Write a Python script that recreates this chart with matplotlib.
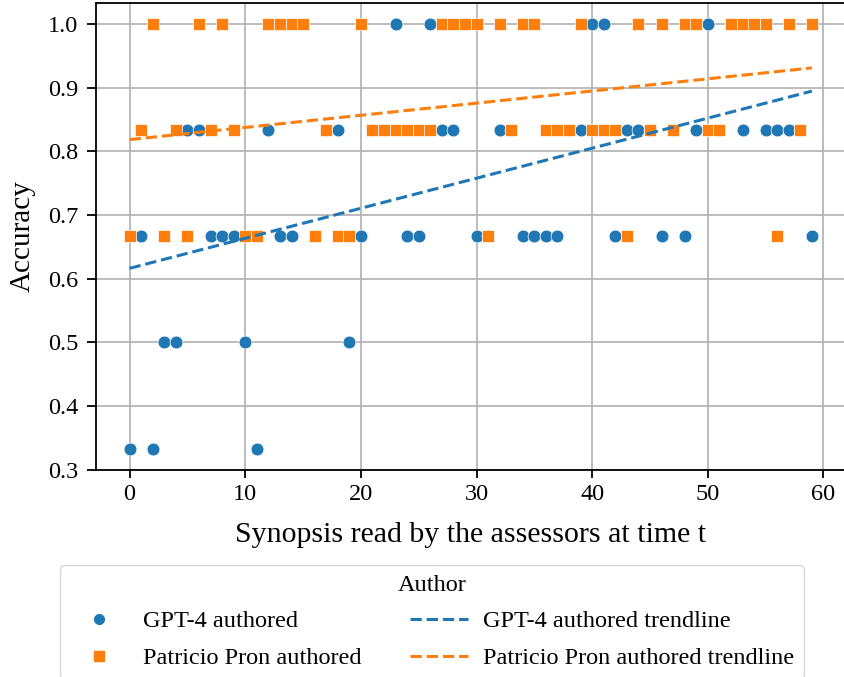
import numpy as np
import matplotlib
matplotlib.use("Agg")
import matplotlib.pyplot as plt
from matplotlib.lines import Line2D

plt.rcParams['font.family'] = ['Liberation Serif', 'DejaVu Serif']

# time t (synopsis index)
t = list(range(60))

gpt4_acc = [0.333, 0.667, 0.333, 0.5, 0.5, 0.833, 0.833, 0.667, 0.667, 0.667,
            0.5, 0.333, 0.833, 0.667, 0.667, 1.0, 0.667, 0.833, 0.833, 0.5,
            0.667, 0.833, 0.833, 1.0, 0.667, 0.667, 1.0, 0.833, 0.833, 1.0,
            0.667, 0.667, 0.833, 0.833, 0.667, 0.667, 0.667, 0.667, 0.833, 0.833,
            1.0, 1.0, 0.667, 0.833, 0.833, 0.833, 0.667, 0.833, 0.667, 0.833,
            1.0, 0.833, 1.0, 0.833, 1.0, 0.833, 0.833, 0.833, 0.833, 0.667]

pron_acc = [0.667, 0.833, 1.0, 0.667, 0.833, 0.667, 1.0, 0.833, 1.0, 0.833,
            0.667, 0.667, 1.0, 1.0, 1.0, 1.0, 0.667, 0.833, 0.667, 0.667,
            1.0, 0.833, 0.833, 0.833, 0.833, 0.833, 0.833, 1.0, 1.0, 1.0,
            1.0, 0.667, 1.0, 0.833, 1.0, 1.0, 0.833, 0.833, 0.833, 1.0,
            0.833, 0.833, 0.833, 0.667, 1.0, 0.833, 1.0, 0.833, 1.0, 1.0,
            0.833, 0.833, 1.0, 1.0, 1.0, 1.0, 0.667, 1.0, 0.833, 1.0]

series_names = ["GPT-4 authored", "Patricio Pron authored"]
colors = ["#1f77b4", "#ff7f0e"]

W, H = 844, 677
fig = plt.figure(figsize=(W / 100, H / 100), dpi=100)
ax = fig.add_axes([95.5 / W, 1 - 469.5 / H, (846 - 95.5) / W, (469.5 - 3) / H])

x = np.array(t, dtype=float)
ax.plot(x, gpt4_acc, 'o', color=colors[0], markersize=9.2, markeredgecolor='white',
        markeredgewidth=0.5, zorder=3)
ax.plot(x, pron_acc, 's', color=colors[1], markersize=9.2, markeredgecolor='white',
        markeredgewidth=0.5, zorder=3)

for ys, c in zip([gpt4_acc, pron_acc], colors):
    k, b = np.polyfit(x, ys, 1)
    ax.plot([x.min(), x.max()], [k * x.min() + b, k * x.max() + b], '--', color=c,
            linewidth=2.2, zorder=4)

ax.set_xlim(-2.95, 61.95)
ax.set_ylim(0.3, 1.0333)
ax.set_xticks([0, 10, 20, 30, 40, 50, 60])
ax.set_yticks([0.3, 0.4, 0.5, 0.6, 0.7, 0.8, 0.9, 1.0])
ax.grid(True, color='#b0b0b0', linewidth=1.2)
ax.set_axisbelow(True)
ax.tick_params(labelsize=17.5, width=1.3)
ax.tick_params(axis='y', length=6.5, pad=6)
ax.tick_params(axis='x', length=5.5, pad=5)
for s in ax.spines.values():
    s.set_linewidth(1.3)
ax.set_xlabel("Synopsis read by the assessors at time t", fontsize=21.5, labelpad=12)
ax.set_ylabel("Accuracy", fontsize=21, labelpad=9)

handles = [
    Line2D([], [], marker='o', linestyle='none', color=colors[0], markersize=7),
    Line2D([], [], marker='s', linestyle='none', color=colors[1], markersize=7),
    Line2D([], [], linestyle='--', color=colors[0], linewidth=2.2),
    Line2D([], [], linestyle='--', color=colors[1], linewidth=2.2),
]
labels = [series_names[0], series_names[1],
          series_names[0] + " trendline", series_names[1] + " trendline"]
leg = fig.legend(handles, labels, title="Author", ncol=2, loc='upper center',
                 bbox_to_anchor=(432 / W, 1 - 553 / H), fontsize=17.5,
                 title_fontsize=17.5, frameon=True, fancybox=True,
                 edgecolor='#cccccc', columnspacing=2.0, handlelength=2.4,
                 handletextpad=0.6, labelspacing=0.6)

fig.savefig("out.png", dpi=100)
